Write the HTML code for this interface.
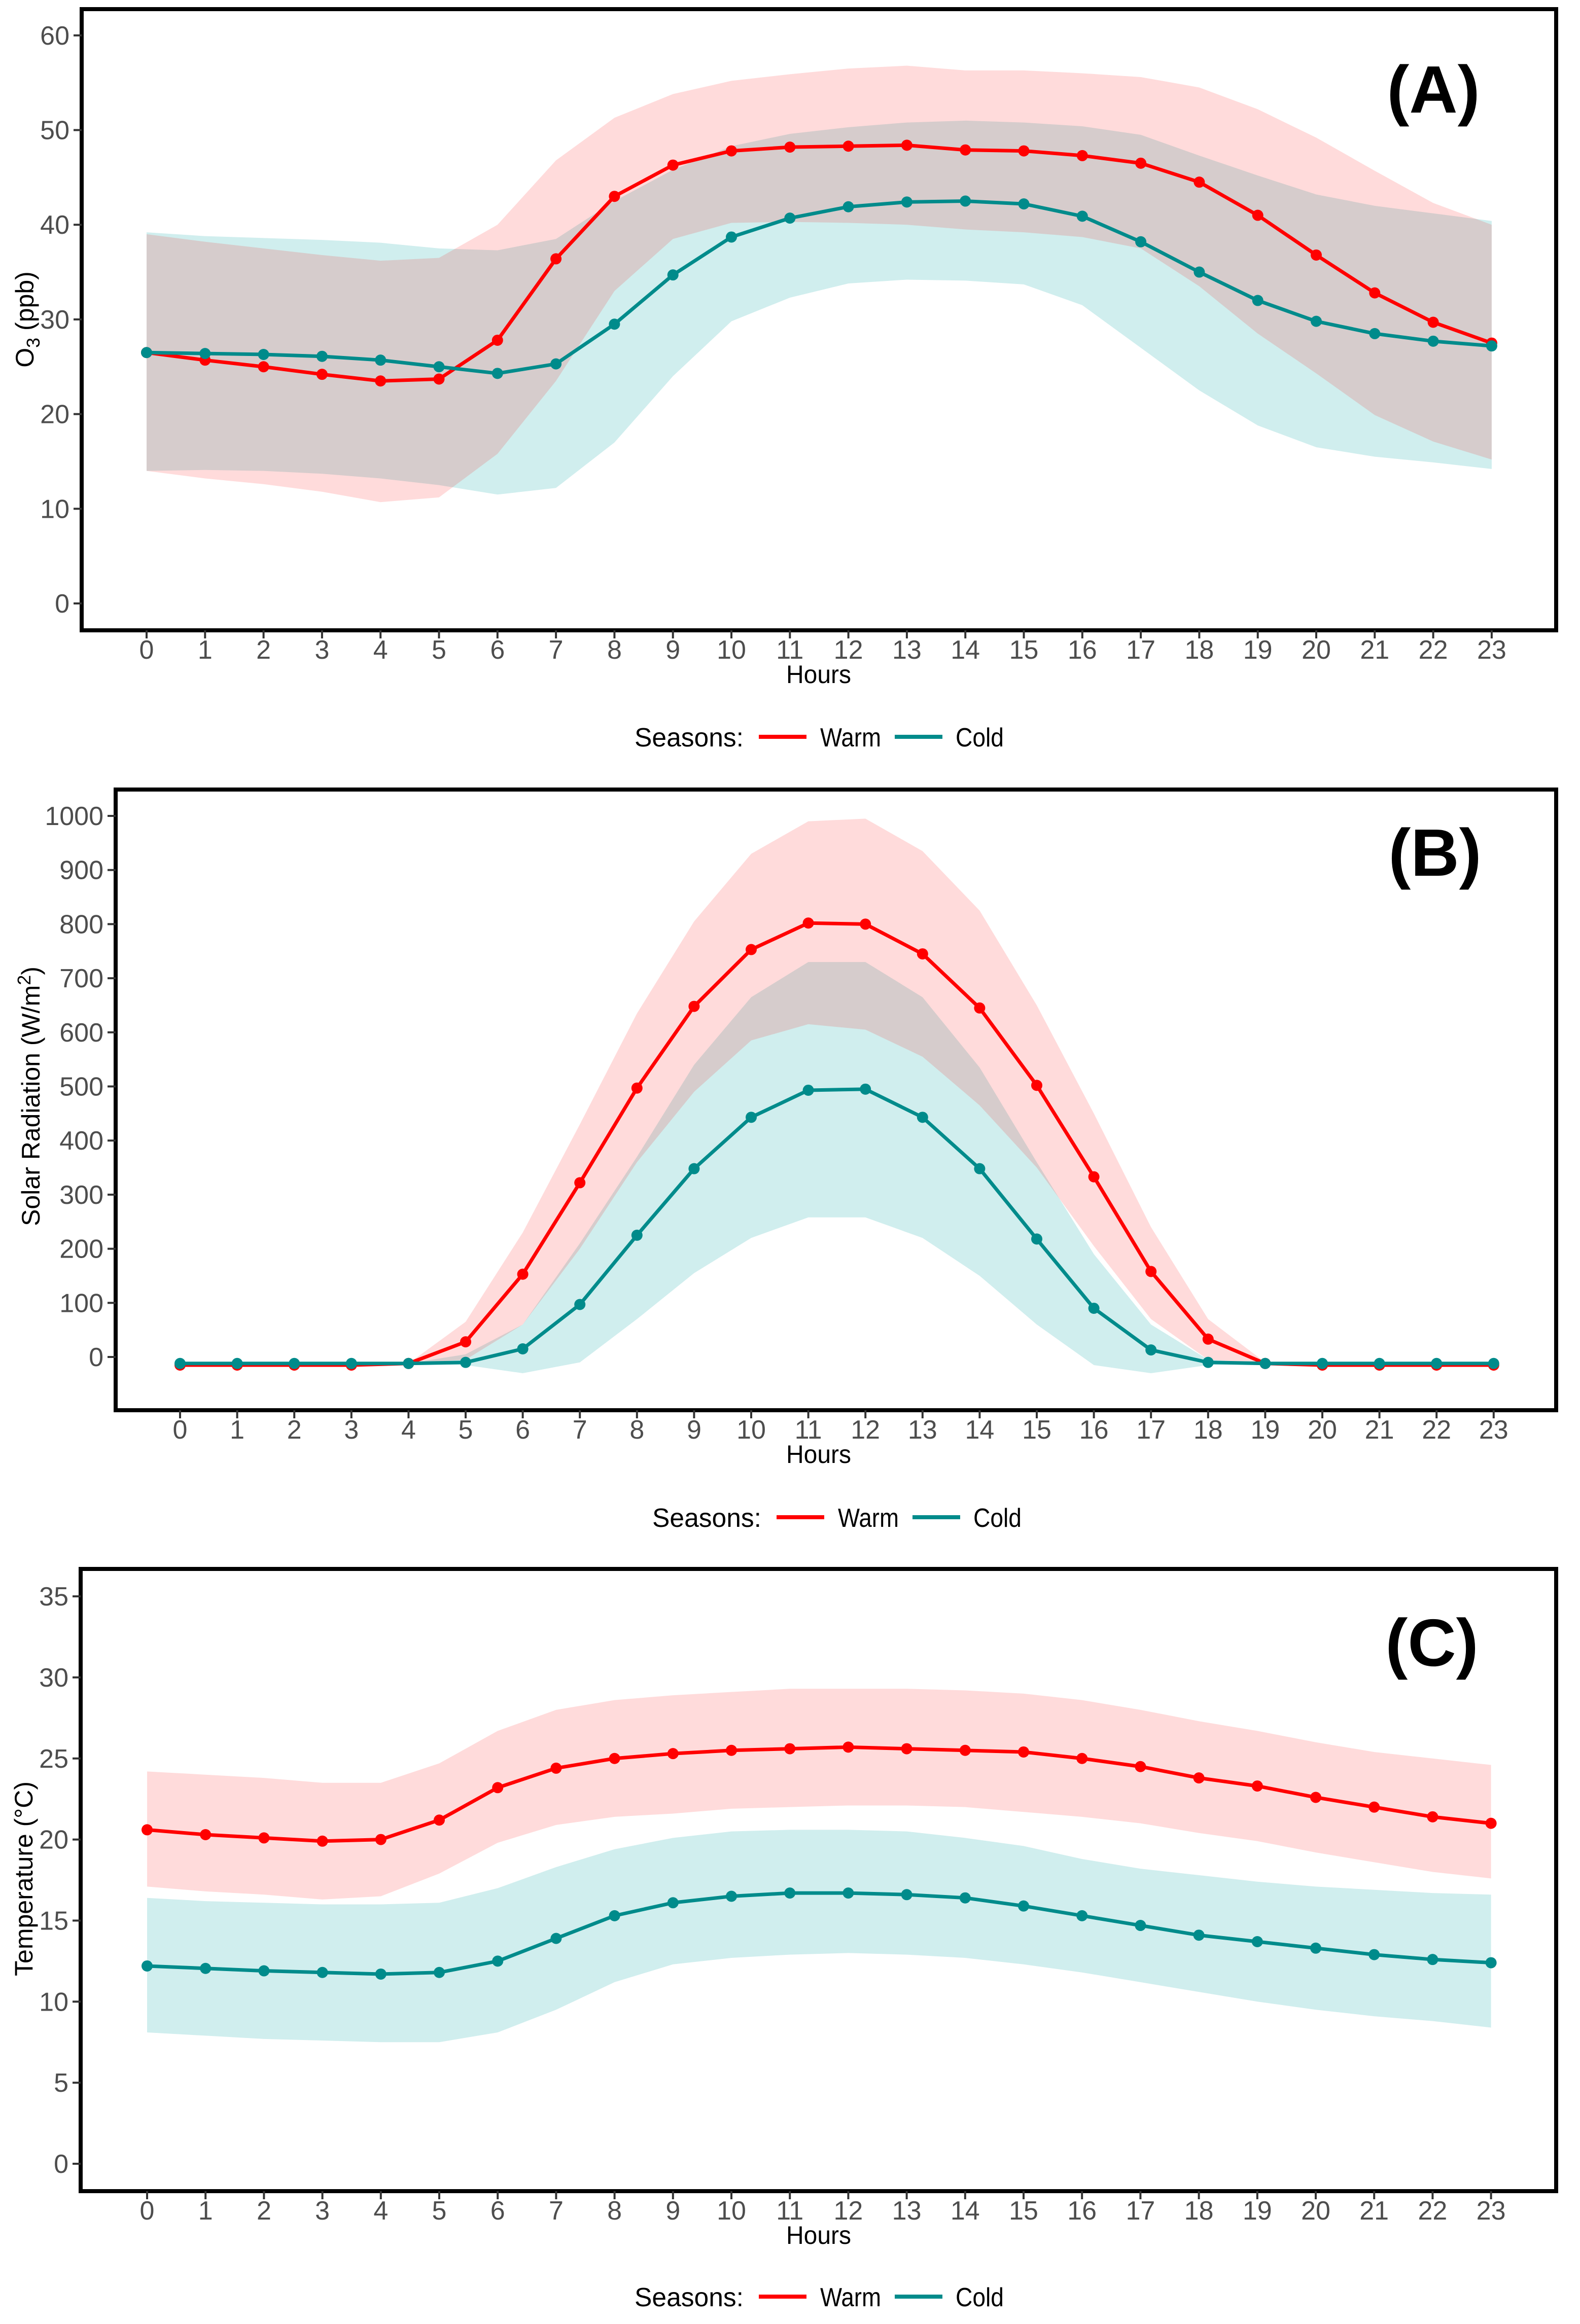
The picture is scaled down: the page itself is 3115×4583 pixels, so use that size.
<!DOCTYPE html>
<html><head><meta charset="utf-8"><style>
html,body{margin:0;padding:0;background:#fff;}
svg{display:block;}
</style></head><body>
<svg id="chart" width="3115" height="4583" viewBox="0 0 3115 4583" xmlns="http://www.w3.org/2000/svg"></svg>
<script>
const hours = [0,1,2,3,4,5,6,7,8,9,10,11,12,13,14,15,16,17,18,19,20,21,22,23];
// Panel A: O3
const o3WarmMean = [26.5,25.7,25,24.2,23.5,23.7,27.8,36.4,43,46.3,47.8,48.2,48.3,48.4,47.9,47.8,47.3,46.5,44.5,41,36.8,32.8,29.7,27.5];
const o3WarmUpper = [39,38.2,37.5,36.8,36.2,36.5,40,46.8,51.3,53.8,55.2,55.9,56.5,56.8,56.3,56.3,56,55.6,54.5,52.2,49.2,45.7,42.3,40];
const o3WarmLower = [14,13.2,12.6,11.8,10.7,11.2,15.8,23.5,33,38.5,40.2,40.3,40.2,40,39.5,39.2,38.7,37.5,33.5,28.5,24.3,19.9,17.1,15.2];
const o3ColdMean = [26.5,26.4,26.3,26.1,25.7,25,24.3,25.3,29.5,34.7,38.7,40.7,41.9,42.4,42.5,42.2,40.9,38.2,35,32,29.8,28.5,27.7,27.2];
const o3ColdUpper = [39.2,38.8,38.6,38.4,38.1,37.5,37.3,38.5,42.5,45.8,48.3,49.6,50.3,50.8,51,50.8,50.4,49.5,47.3,45.2,43.2,42,41.2,40.4];
const o3ColdLower = [14,14.1,14,13.7,13.2,12.5,11.5,12.2,17,24,29.8,32.3,33.8,34.2,34.1,33.7,31.5,27,22.5,18.8,16.5,15.5,14.9,14.2];
const o3Ticks = [0,10,20,30,40,50,60];
// Panel B: Solar radiation
const srWarmMean = [-15,-15,-15,-15,-12,28,153,322,497,648,753,802,800,745,645,502,333,158,33,-12,-15,-15,-15,-15];
const srWarmUpper = [-15,-15,-15,-15,-12,65,230,430,635,805,930,990,995,935,825,650,450,240,70,-10,-15,-15,-15,-15];
const srWarmLower = [-15,-15,-15,-15,-12,-5,60,200,360,490,585,615,605,555,465,350,205,70,-5,-12,-15,-15,-15,-15];
const srColdMean = [-12,-12,-12,-12,-12,-10,15,97,225,348,443,493,495,443,348,218,90,13,-10,-12,-12,-12,-12,-12];
const srColdUpper = [-12,-12,-12,-12,-12,5,60,210,370,540,665,730,730,665,535,360,190,60,-5,-12,-12,-12,-12,-12];
const srColdLower = [-12,-12,-12,-12,-12,-15,-30,-10,70,155,220,258,258,220,150,60,-15,-30,-15,-12,-12,-12,-12,-12];
const srTicks = [0,100,200,300,400,500,600,700,800,900,1000];
// Panel C: Temperature
const tWarmMean = [20.6,20.3,20.1,19.9,20,21.2,23.2,24.4,25,25.3,25.5,25.6,25.7,25.6,25.5,25.4,25,24.5,23.8,23.3,22.6,22,21.4,21];
const tWarmUpper = [24.2,24,23.8,23.5,23.5,24.7,26.7,28,28.6,28.9,29.1,29.3,29.3,29.3,29.2,29,28.6,28,27.3,26.7,26,25.4,25,24.6];
const tWarmLower = [17.1,16.8,16.6,16.3,16.5,17.9,19.8,20.9,21.4,21.6,21.9,22,22.1,22.1,22,21.7,21.4,21,20.4,19.9,19.2,18.6,18,17.6];
const tColdMean = [12.2,12.05,11.9,11.8,11.7,11.8,12.5,13.9,15.3,16.1,16.5,16.7,16.7,16.6,16.4,15.9,15.3,14.7,14.1,13.7,13.3,12.9,12.6,12.4];
const tColdUpper = [16.4,16.2,16.1,16,16,16.1,17,18.3,19.4,20.1,20.5,20.6,20.6,20.5,20.1,19.6,18.8,18.2,17.8,17.4,17.1,16.9,16.7,16.6];
const tColdLower = [8.1,7.9,7.7,7.6,7.5,7.5,8.1,9.5,11.2,12.3,12.7,12.9,13,12.9,12.7,12.3,11.8,11.2,10.6,10,9.5,9.1,8.8,8.4];
const tTicks = [0,5,10,15,20,25,30,35];

const NS = "http://www.w3.org/2000/svg";
const svg = document.getElementById('chart');
function mk(tag, attrs, parent){
  const e = document.createElementNS(NS, tag);
  for (const k in attrs) e.setAttribute(k, attrs[k]);
  (parent||svg).appendChild(e);
  return e;
}
const RED = "#ff0000", TEAL = "#008b8b";
const NF = 'Liberation Sans Narrow, Liberation Sans, sans-serif';

function panel(cfg){
  const g = mk('g', {});
  
  
  const xS = h => cfg.x0 + h * cfg.dx;
  const yS = v => cfg.yZero - v * cfg.pxPerUnit;
  function ribbon(up, lo, fill, name){
    let d = '';
    hours.forEach((h,i)=>{ d += (i?'L':'M') + xS(h) + ',' + yS(up[i]); });
    for (let i = hours.length-1; i >= 0; i--) d += 'L' + xS(hours[i]) + ',' + yS(lo[i]);
    const p = mk('path', {d: d + 'Z', fill: fill}, g);
    
    
  }
  ribbon(cfg.cu, cfg.cl, '#d0eeee', cfg.id + '-cold-ribbon');
  ribbon(cfg.wu, cfg.wl, 'rgba(255,0,0,0.14)', cfg.id + '-warm-ribbon');
  function series(vals, color, name){
    const pts = hours.map((h,i)=> xS(h) + ',' + yS(vals[i])).join(' ');
    const l = mk('polyline', {points: pts, fill: 'none', stroke: color, 'stroke-width': 7, 'stroke-linejoin': 'round'}, g);
    
    
    hours.forEach((h,i)=>{
      const c = mk('circle', {cx: xS(h), cy: yS(vals[i]), r: 11, fill: color}, g);
      
      
    });
  }
  series(cfg.wm, RED, cfg.id + '-warm');
  series(cfg.cm, TEAL, cfg.id + '-cold');
  const b = mk('rect', {x: cfg.bx0, y: cfg.by0, width: cfg.bx1 - cfg.bx0, height: cfg.by1 - cfg.by0, fill: 'none', stroke: '#000', 'stroke-width': 8}, g);
  
  
  cfg.ticks.forEach(t=>{
    const y = yS(t);
    mk('line', {x1: cfg.bx0 - 16, x2: cfg.bx0, y1: y, y2: y, stroke: '#333', 'stroke-width': 4}, g);
    const tx = mk('text', {x: cfg.bx0 - 24, y: y + 18, 'text-anchor': 'end', 'font-size': 52, fill: '#4d4d4d', 'font-family': 'Liberation Sans, sans-serif'}, g);
    tx.textContent = t;
    
    
  });
  hours.forEach(h=>{
    const x = xS(h);
    mk('line', {x1: x, x2: x, y1: cfg.by1, y2: cfg.by1 + 16, stroke: '#333', 'stroke-width': 4}, g);
    const tx = mk('text', {x: x, y: cfg.by1 + 56, 'text-anchor': 'middle', 'font-size': 52, fill: '#4d4d4d', 'font-family': 'Liberation Sans, sans-serif'}, g);
    tx.textContent = h;
    
    
  });
  const xt = mk('text', {x: 1550, y: cfg.by1 + 104, 'font-size': 50, fill: '#000', 'font-family': NF, textLength: 128, lengthAdjust: 'spacingAndGlyphs'}, g);
  xt.textContent = 'Hours';
  
  
  const yt = mk('text', {transform: 'translate(' + cfg.ytx + ',' + cfg.yty + ') rotate(-90)', 'text-anchor': 'middle', 'font-size': 50, fill: '#000', 'font-family': NF}, g);
  yt.innerHTML = cfg.ytitle;
  
  
  const pl = mk('text', {x: cfg.lx, y: cfg.ly, 'text-anchor': 'middle', 'font-size': 132, 'font-weight': 'bold', fill: '#000', 'font-family': 'Liberation Sans, sans-serif'}, g);
  pl.textContent = cfg.label;
  
  
  const lg = mk('g', {}, g);
  
  
  const L = cfg.legx, Y = cfg.legy;
  const t1 = mk('text', {x: L, y: Y, 'font-size': 52, fill: '#000', 'font-family': NF, textLength: 215, lengthAdjust: 'spacingAndGlyphs'}, lg);
  t1.textContent = 'Seasons:';
  
  
  const l1 = mk('line', {x1: L + 245, x2: L + 339, y1: Y - 19, y2: Y - 19, stroke: RED, 'stroke-width': 8}, lg);
  
  
  const t2 = mk('text', {x: L + 366, y: Y, 'font-size': 52, fill: '#000', 'font-family': NF, textLength: 120, lengthAdjust: 'spacingAndGlyphs'}, lg);
  t2.textContent = 'Warm';
  
  
  const l2 = mk('line', {x1: L + 513, x2: L + 607, y1: Y - 19, y2: Y - 19, stroke: TEAL, 'stroke-width': 8}, lg);
  
  
  const t3 = mk('text', {x: L + 633, y: Y, 'font-size': 52, fill: '#000', 'font-family': NF, textLength: 95, lengthAdjust: 'spacingAndGlyphs'}, lg);
  t3.textContent = 'Cold';
  
  
}

panel({id:'ozone', x0:289, dx:115.3, yZero:1190, pxPerUnit:18.67, ticks:o3Ticks,
  bx0:161, by0:18, bx1:3068, by1:1243,
  wm:o3WarmMean, wu:o3WarmUpper, wl:o3WarmLower, cm:o3ColdMean, cu:o3ColdUpper, cl:o3ColdLower,
  ytx:66, yty:630, ytitle:'O<tspan font-size="36" dy="12">3</tspan><tspan dy="-12"> (ppb)</tspan>',
  lx:2826, ly:222, label:'(A)', legx:1251, legy:1472});
panel({id:'solar', x0:355, dx:112.6, yZero:2676, pxPerUnit:1.067, ticks:srTicks,
  bx0:228, by0:1557, bx1:3068, by1:2781,
  wm:srWarmMean, wu:srWarmUpper, wl:srWarmLower, cm:srColdMean, cu:srColdUpper, cl:srColdLower,
  ytx:78, yty:2162, ytitle:'Solar Radiation (W/m<tspan font-size="36" dy="-18">2</tspan><tspan dy="18">)</tspan>',
  lx:2829, ly:1727, label:'(B)', legx:1286, legy:3011});
panel({id:'temperature', x0:290, dx:115.2, yZero:4267, pxPerUnit:31.97, ticks:tTicks,
  bx0:159, by0:3094, bx1:3068, by1:4321,
  wm:tWarmMean, wu:tWarmUpper, wl:tWarmLower, cm:tColdMean, cu:tColdUpper, cl:tColdLower,
  ytx:64, yty:3705, ytitle:'Temperature (°C)',
  lx:2823, ly:3285, label:'(C)', legx:1251, legy:4548});
</script>
</body></html>
